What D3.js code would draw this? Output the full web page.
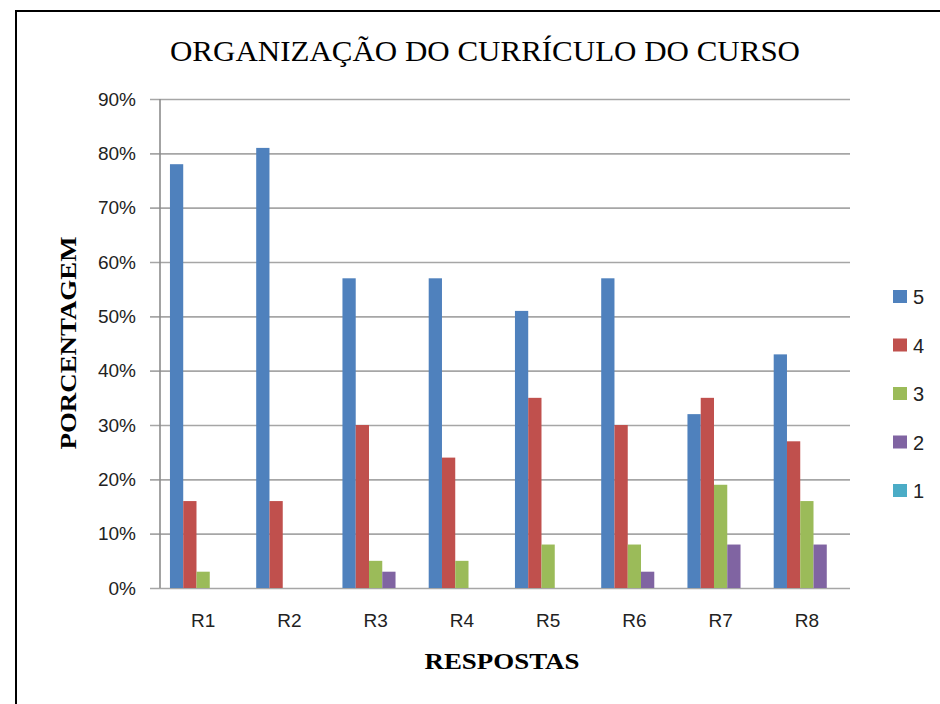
<!DOCTYPE html>
<html>
<head>
<meta charset="utf-8">
<script src="https://cdn.jsdelivr.net/npm/d3@7"></script>
<style>
  body { margin: 0; background: #fff; }
  svg { display: block; }
</style>
</head>
<body>
<div id="chart"></div>
<script>
  // data
  const categories = ["R1", "R2", "R3", "R4", "R5", "R6", "R7", "R8"];
  const seriesNames = ["5", "4", "3", "2", "1"];
  const s5 = [78, 81, 57, 57, 51, 57, 32, 43];
  const s4 = [16, 16, 30, 24, 35, 30, 35, 27];
  const s3 = [3, 0, 5, 5, 8, 8, 19, 16];
  const s2 = [0, 0, 3, 0, 0, 3, 8, 8];
  const s1 = [0, 0, 0, 0, 0, 0, 0, 0];
  const yTicks = [0, 10, 20, 30, 40, 50, 60, 70, 80, 90];
  const colors = ["#4f81bd", "#c0504d", "#9bbb59", "#8064a2", "#4bacc6"];

  const seriesValues = [s5, s4, s3, s2, s1];

  const width = 940, height = 704;
  const plot = { left: 160, right: 850, top: 99, bottom: 588 };

  const svg = d3.select("#chart")
    .append("svg")
    .attr("width", width)
    .attr("height", height);

  // outer frame (only left and top edges fall inside the picture)
  svg.append("path")
    .attr("d", "M16,704 L16,11 L940,11")
    .attr("fill", "none")
    .attr("stroke", "#000")
    .attr("stroke-width", 2);

  const x = d3.scaleBand()
    .domain(categories)
    .range([plot.left, plot.right])
    .paddingInner(1.5 / 6.5)
    .paddingOuter(0.75 / 6.5);

  const xs = d3.scaleBand()
    .domain(seriesNames)
    .range([0, x.bandwidth()]);

  const y = d3.scaleLinear()
    .domain([0, 90])
    .range([plot.bottom, plot.top]);

  // gridlines + y axis
  const yAxis = svg.append("g")
    .attr("transform", `translate(${plot.left},0)`)
    .call(d3.axisLeft(y)
      .tickValues(yTicks)
      .tickSize(-(plot.right - plot.left))
      .tickPadding(24)
      .tickFormat(d => d + "%"));
  yAxis.select(".domain").remove();
  yAxis.selectAll(".tick line")
    .attr("stroke", "#a6a6a6")
    .attr("stroke-width", 1.6)
    .attr("x1", -10);
  yAxis.selectAll(".tick text")
    .attr("font-family", "Liberation Sans, Arial, sans-serif")
    .attr("font-size", 19)
    .attr("fill", "#222");

  svg.append("line")
    .attr("x1", plot.left).attr("x2", plot.left)
    .attr("y1", plot.top).attr("y2", plot.bottom)
    .attr("stroke", "#8c8c8c")
    .attr("stroke-width", 1.6);

  // bars
  const groups = svg.append("g")
    .selectAll("g")
    .data(categories)
    .join("g")
    .attr("transform", d => `translate(${x(d)},0)`);

  groups.selectAll("rect")
    .data((c, i) => seriesNames.map((s, k) => ({ s: s, v: seriesValues[k][i], c: colors[k] })))
    .join("rect")
    .attr("x", d => xs(d.s))
    .attr("width", xs.bandwidth())
    .attr("y", d => y(d.v))
    .attr("height", d => y(0) - y(d.v))
    .attr("fill", d => d.c);

  // category labels
  const xAxis = svg.append("g")
    .attr("transform", `translate(0,${plot.bottom})`)
    .call(d3.axisBottom(x).tickSize(0).tickPadding(26));
  xAxis.select(".domain").remove();
  xAxis.selectAll(".tick text")
    .attr("font-family", "Liberation Sans, Arial, sans-serif")
    .attr("font-size", 19)
    .attr("fill", "#222");

  // titles
  svg.append("text")
    .attr("x", 485).attr("y", 61)
    .attr("text-anchor", "middle")
    .attr("font-family", "Liberation Serif, Times New Roman, serif")
    .attr("font-size", 30)
    .attr("textLength", 630)
    .attr("lengthAdjust", "spacingAndGlyphs")
    .text("ORGANIZAÇÃO DO CURRÍCULO DO CURSO");

  svg.append("text")
    .attr("transform", "translate(76,343) rotate(-90)")
    .attr("text-anchor", "middle")
    .attr("font-family", "Liberation Serif, Times New Roman, serif")
    .attr("font-weight", "bold")
    .attr("font-size", 24)
    .attr("textLength", 213)
    .attr("lengthAdjust", "spacingAndGlyphs")
    .text("PORCENTAGEM");

  svg.append("text")
    .attr("x", 502).attr("y", 669)
    .attr("text-anchor", "middle")
    .attr("font-family", "Liberation Serif, Times New Roman, serif")
    .attr("font-weight", "bold")
    .attr("font-size", 24)
    .attr("textLength", 155)
    .attr("lengthAdjust", "spacingAndGlyphs")
    .text("RESPOSTAS");

  // legend
  const legend = svg.append("g")
    .selectAll("g")
    .data(seriesNames)
    .join("g")
    .attr("transform", (d, i) => `translate(893,${290 + i * 48.5})`);
  legend.append("rect")
    .attr("width", 14).attr("height", 13)
    .attr("fill", (d, i) => colors[i]);
  legend.append("text")
    .attr("x", 20).attr("y", 14)
    .attr("font-family", "Liberation Sans, Arial, sans-serif")
    .attr("font-size", 20)
    .attr("fill", "#222")
    .text(d => d);
</script>
</body>
</html>
